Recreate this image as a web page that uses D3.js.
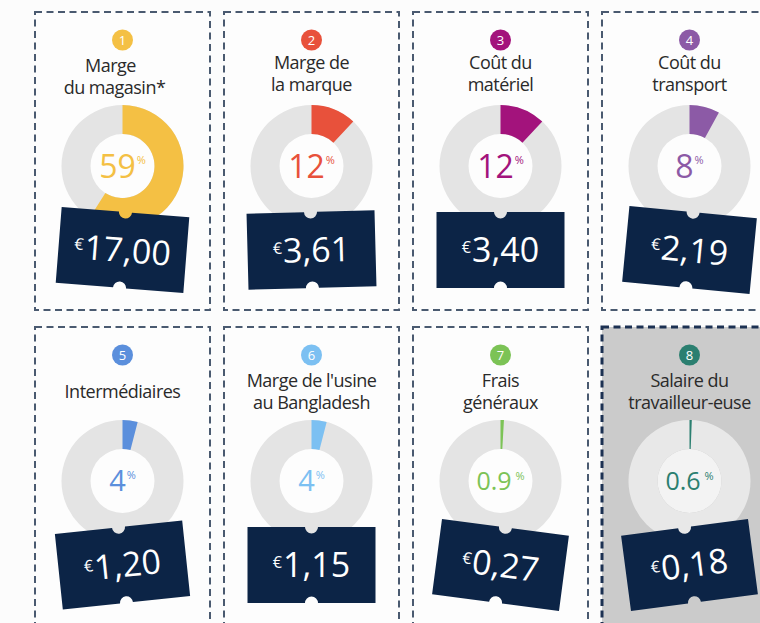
<!DOCTYPE html>
<html>
<head>
<meta charset="utf-8">
<script src="https://cdn.jsdelivr.net/npm/d3@7"></script>
<style>
  html, body { margin: 0; padding: 0; background: #fcfcfc; overflow: hidden; }
  svg { display: block; }
</style>
</head>
<body>
<svg id="chart" width="760" height="623"></svg>
<script>
// ---- data ----
const categoryIds = [1, 2, 3, 4, 5, 6, 7, 8];
const categoryLabels = [
  ["Marge", "du magasin*"],
  ["Marge de", "la marque"],
  ["Coût du", "matériel"],
  ["Coût du", "transport"],
  ["Intermédiaires"],
  ["Marge de l'usine", "au Bangladesh"],
  ["Frais", "généraux"],
  ["Salaire du", "travailleur-euse"]
];
const sharePercent = [59, 12, 12, 8, 4, 4, 0.9, 0.6];
const priceEuro = [17.00, 3.61, 3.40, 2.19, 1.20, 1.15, 0.27, 0.18];

// ---- styles ----
const seriesColors = ["#f4c044", "#e8513b", "#a3137c", "#8c5aa6", "#5b8fdc", "#7cc0f2", "#7cc356", "#2b7f70"];
const tagTilt = [4.5, -1.5, 0, 5.5, -6, 0, 7.5, -7.5];
const highlightIndex = 7;

const svg = d3.select("#chart");
const W = 760, H = 623;
svg.append("rect").attr("width", W).attr("height", H).attr("fill", "#fcfcfc");

const cols = 4;
const cardW = 175, cardH = 298;
const xPos = d3.scaleLinear().domain([0, 1]).range([35, 35 + 189]);
const yPos = d3.scaleLinear().domain([0, 1]).range([12, 12 + 315]);

const angle = d3.scaleLinear().domain([0, 100]).range([0, 2 * Math.PI]);
const rOuter = 61, rInner = 32;
const ringArc = d3.arc().innerRadius(rInner).outerRadius(rOuter).startAngle(0).endAngle(2 * Math.PI);
const shareArc = d3.arc().innerRadius(rInner).outerRadius(rOuter).startAngle(0);

const fmtPrice = v => d3.format(".2f")(v).replace(".", ",");
const pctSize = v => v >= 8 ? 32 : (v >= 2 ? 29 : 25);

const font = "'Open Sans', 'Noto Sans', sans-serif";

const data = categoryIds.map((id, i) => ({
  id, i,
  label: categoryLabels[i],
  pct: sharePercent[i],
  price: priceEuro[i],
  color: seriesColors[i],
  tilt: tagTilt[i],
  col: i % cols,
  row: Math.floor(i / cols)
}));

const cards = svg.selectAll("g.card").data(data).enter().append("g")
  .attr("class", "card")
  .attr("transform", d => `translate(${xPos(d.col)},${yPos(d.row)})`);

// card frame
cards.append("rect")
  .attr("x", 0).attr("y", 0).attr("width", cardW).attr("height", cardH)
  .attr("fill", d => d.i === highlightIndex ? "#cbcbcb" : "#fdfdfd")
  .attr("stroke", d => d.i === highlightIndex ? "#1c3152" : "#4a5a70")
  .attr("stroke-width", d => d.i === highlightIndex ? 3 : 2)
  .attr("stroke-dasharray", "7,4.5");

const cx = cardW / 2;

// badge
cards.append("circle")
  .attr("cx", cx).attr("cy", 28).attr("r", 10.5)
  .attr("fill", d => d.color);
cards.append("text")
  .attr("x", cx).attr("y", 33)
  .attr("text-anchor", "middle")
  .attr("font-family", font).attr("font-size", 13)
  .attr("fill", "#ffffff")
  .text(d => d.id);

// titles
cards.each(function(d) {
  const g = d3.select(this);
  const lines = d.label;
  const base = lines.length === 1 ? [71] : (d.row === 0 ? [57, 79] : [60, 82]);
  lines.forEach((ln, k) => {
    g.append("text")
      .attr("x", cx + (d.i === 0 ? (k === 0 ? -12 : -8) : 0))
      .attr("y", base[k] + (d.i === 0 ? 3 : 0))
      .attr("text-anchor", "middle")
      .attr("font-family", font)
      .attr("font-size", 18)
      .attr("letter-spacing", -0.5)
      .attr("fill", "#2a2a2a")
      .text(ln);
  });
});

// donut
const donut = cards.append("g").attr("transform", `translate(${cx},154)`);
donut.append("circle").attr("r", rInner)
  .attr("fill", d => d.i === highlightIndex ? "#f3f3f3" : "#fdfdfd");
donut.append("path")
  .attr("d", ringArc())
  .attr("fill", d => d.i === highlightIndex ? "#e8e8e8" : "#e4e4e4");
donut.append("path")
  .attr("d", d => shareArc({ endAngle: Math.max(angle(d.pct), 0.025) }))
  .attr("fill", d => d.color);

const pctText = donut.append("text")
  .attr("y", d => pctSize(d.pct) * 0.36)
  .attr("text-anchor", "middle")
  .attr("font-family", font)
  .attr("fill", d => d.color);
pctText.append("tspan")
  .attr("font-size", d => pctSize(d.pct))
  .text(d => String(d.pct));
pctText.append("tspan")
  .attr("font-size", 11)
  .attr("dx", d => d.pct < 1 ? 4 : 1)
  .attr("dy", d => -pctSize(d.pct) * 0.42)
  .text("%");

// price tag
const tagW = 128, tagH = 76, nr = 6.5;
const tagPath = `M${-tagW/2},${-tagH/2} L${-nr},${-tagH/2} A${nr},${nr} 0 0 0 ${nr},${-tagH/2} L${tagW/2},${-tagH/2} L${tagW/2},${tagH/2} L${nr},${tagH/2} A${nr},${nr} 0 0 0 ${-nr},${tagH/2} L${-tagW/2},${tagH/2} Z`;
const tag = cards.append("g")
  .attr("transform", d => `translate(${cx},238) rotate(${d.tilt})`);
tag.append("path").attr("d", tagPath).attr("fill", "#0c2446");
const priceText = tag.append("text")
  .attr("y", 12)
  .attr("text-anchor", "middle")
  .attr("font-family", font)
  .attr("fill", "#ffffff");
priceText.append("tspan")
  .attr("font-size", 16)
  .attr("dy", -9)
  .text("€");
priceText.append("tspan")
  .attr("font-size", 34)
  .attr("dy", 9)
  .attr("dx", 1)
  .text(d => fmtPrice(d.price));
</script>
</body>
</html>
